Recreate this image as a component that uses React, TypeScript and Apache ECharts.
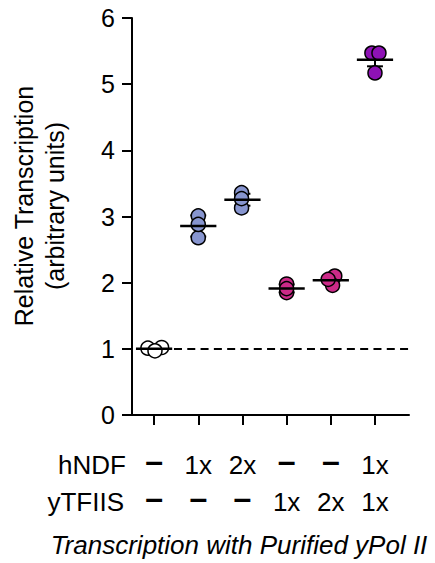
import React, { useEffect, useRef } from "react";
import * as echarts from "echarts";

// ---- data ----
const hNDF = ["–", "1x", "2x", "–", "–", "1x"];
const yTFIIS = ["–", "–", "–", "1x", "2x", "1x"];
const groupPositions = [1, 2, 3, 4, 5, 6];
const yTicks = [0, 1, 2, 3, 4, 5, 6];
const groupColors = ["#FFFFFF", "#8795CF", "#8795CF", "#CC2A88", "#CC2A88", "#8E12B5"];
const replicates = [
  [1.01, 1.02, 0.97],
  [3.01, 2.68, 2.88],
  [3.36, 3.13, 3.27],
  [1.98, 1.85, 1.91],
  [2.1, 1.96, 2.05],
  [5.47, 5.47, 5.17],
];
const jitter = [
  [-0.14, 0.17, 0.02],
  [0, 0, 0],
  [-0.02, -0.02, -0.02],
  [0, 0, 0],
  [0.09, 0.04, -0.06],
  [-0.07, 0.09, 0],
];
const errors = [0.02, 0.16, 0.09, 0.06, 0.04, 0.1];
const baseline = 1;
const yTitle = "Relative Transcription\n(arbitrary units)";
const xTitle = "Transcription with Purified yPol II";
const rowHeaders = ["hNDF", "yTFIIS"];

const FONT = "'Liberation Sans', Arial, sans-serif";

function cell(s: string) {
  return s === "–" ? `{d|${s}}` : `{t|${s}}`;
}

export default function App() {
  const ref = useRef<HTMLDivElement>(null);
  useEffect(() => {
    if (!ref.current) return;
    const chart = echarts.init(ref.current, null, { renderer: "svg" });
    const means = replicates.map((r) => r.reduce((a, b) => a + b, 0) / r.length);
    const pointData: any[] = [];
    replicates.forEach((r, gi) => {
      r.forEach((v, j) => {
        pointData.push({
          value: [groupPositions[gi] + jitter[gi][j], v],
          itemStyle: { color: groupColors[gi] },
        });
      });
    });
    const summary = groupPositions.map((p, i) => [p, means[i], errors[i]]);

    chart.setOption({
      animation: false,
      grid: { left: 132, right: 26, top: 18, bottom: 148 },
      xAxis: {
        type: "value",
        min: 0.5,
        max: 6.77,
        splitLine: { show: false },
        axisLine: { show: true, onZero: false, lineStyle: { color: "#000", width: 2 } },
        axisTick: {
          show: true,
          length: 10,
          lineStyle: { color: "#000", width: 2 },
          customValues: groupPositions,
        },
        axisLabel: {
          show: true,
          customValues: groupPositions,
          formatter: (v: number) => {
            const i = Math.round(v) - 1;
            return cell(hNDF[i]) + "\n" + cell(yTFIIS[i]);
          },
          color: "#000",
          fontSize: 26,
          lineHeight: 37,
          margin: 31,
          fontFamily: FONT,
          rich: {
            t: { fontSize: 26, lineHeight: 37, fontFamily: FONT, color: "#000" },
            d: {
              fontSize: 32,
              lineHeight: 37,
              fontFamily: FONT,
              fontWeight: "bold",
              color: "#000",
              padding: [0, 0, 7, 0],
            },
          },
        },
      },
      yAxis: {
        type: "value",
        min: 0,
        max: 6,
        interval: 1,
        splitLine: { show: false },
        axisLine: { show: true, lineStyle: { color: "#000", width: 2 } },
        axisTick: { show: true, length: 10, lineStyle: { color: "#000", width: 2 } },
        axisLabel: {
          color: "#000",
          fontSize: 25,
          margin: 17,
          fontFamily: FONT,
          customValues: yTicks,
        },
      },
      graphic: [
        {
          type: "text",
          x: 39,
          y: 206,
          rotation: Math.PI / 2,
          style: {
            text: yTitle,
            fill: "#000",
            font: `25px ${FONT}`,
            align: "center",
            verticalAlign: "middle",
            lineHeight: 31,
          },
        },
        {
          type: "text",
          x: 126,
          y: 465,
          style: {
            text: rowHeaders[0],
            fill: "#000",
            font: `26px ${FONT}`,
            align: "right",
            verticalAlign: "middle",
          },
        },
        {
          type: "text",
          x: 124,
          y: 502,
          style: {
            text: rowHeaders[1],
            fill: "#000",
            font: `26px ${FONT}`,
            align: "right",
            verticalAlign: "middle",
          },
        },
        {
          type: "text",
          x: 239,
          y: 545,
          style: {
            text: xTitle,
            fill: "#000",
            font: `italic 26px ${FONT}`,
            align: "center",
            verticalAlign: "middle",
          },
        },
      ],
      series: [
        {
          type: "custom",
          z: 1,
          data: summary,
          encode: { x: 0, y: 1 },
          renderItem: (params: any, api: any) => {
            const x = api.value(0);
            const m = api.value(1);
            const e = api.value(2);
            const top = api.coord([x, m + e]);
            const bot = api.coord([x, m - e]);
            const cap = api.size([0.18, 0])[0];
            const st = { stroke: "#000", lineWidth: 2 };
            return {
              type: "group",
              children: [
                { type: "line", shape: { x1: top[0], y1: top[1], x2: bot[0], y2: bot[1] }, style: st },
                { type: "line", shape: { x1: top[0] - cap, y1: top[1], x2: top[0] + cap, y2: top[1] }, style: st },
                { type: "line", shape: { x1: bot[0] - cap, y1: bot[1], x2: bot[0] + cap, y2: bot[1] }, style: st },
              ],
            };
          },
          markLine: {
            silent: true,
            symbol: ["none", "none"],
            label: { show: false },
            lineStyle: { color: "#000", width: 2, type: [8, 5.3] },
            data: [[{ coord: [1.45, baseline] }, { coord: [6.77, baseline] }]],
          },
        },
        {
          type: "scatter",
          z: 2,
          symbol: "circle",
          symbolSize: 14,
          data: pointData,
          itemStyle: { borderColor: "#000", borderWidth: 1.5, opacity: 1 },
        },
        {
          type: "custom",
          z: 3,
          data: summary,
          encode: { x: 0, y: 1 },
          renderItem: (params: any, api: any) => {
            const x = api.value(0);
            const m = api.value(1);
            const c = api.coord([x, m]);
            const half = api.size([0.41, 0])[0];
            return {
              type: "line",
              shape: { x1: c[0] - half, y1: c[1], x2: c[0] + half, y2: c[1] },
              style: { stroke: "#000", lineWidth: 2.5 },
            };
          },
        },
      ],
    });
    return () => chart.dispose();
  }, []);
  return (
    <div
      ref={ref}
      style={{ position: "fixed", left: 0, top: 0, width: 435, height: 563, background: "#fff" }}
    />
  );
}
